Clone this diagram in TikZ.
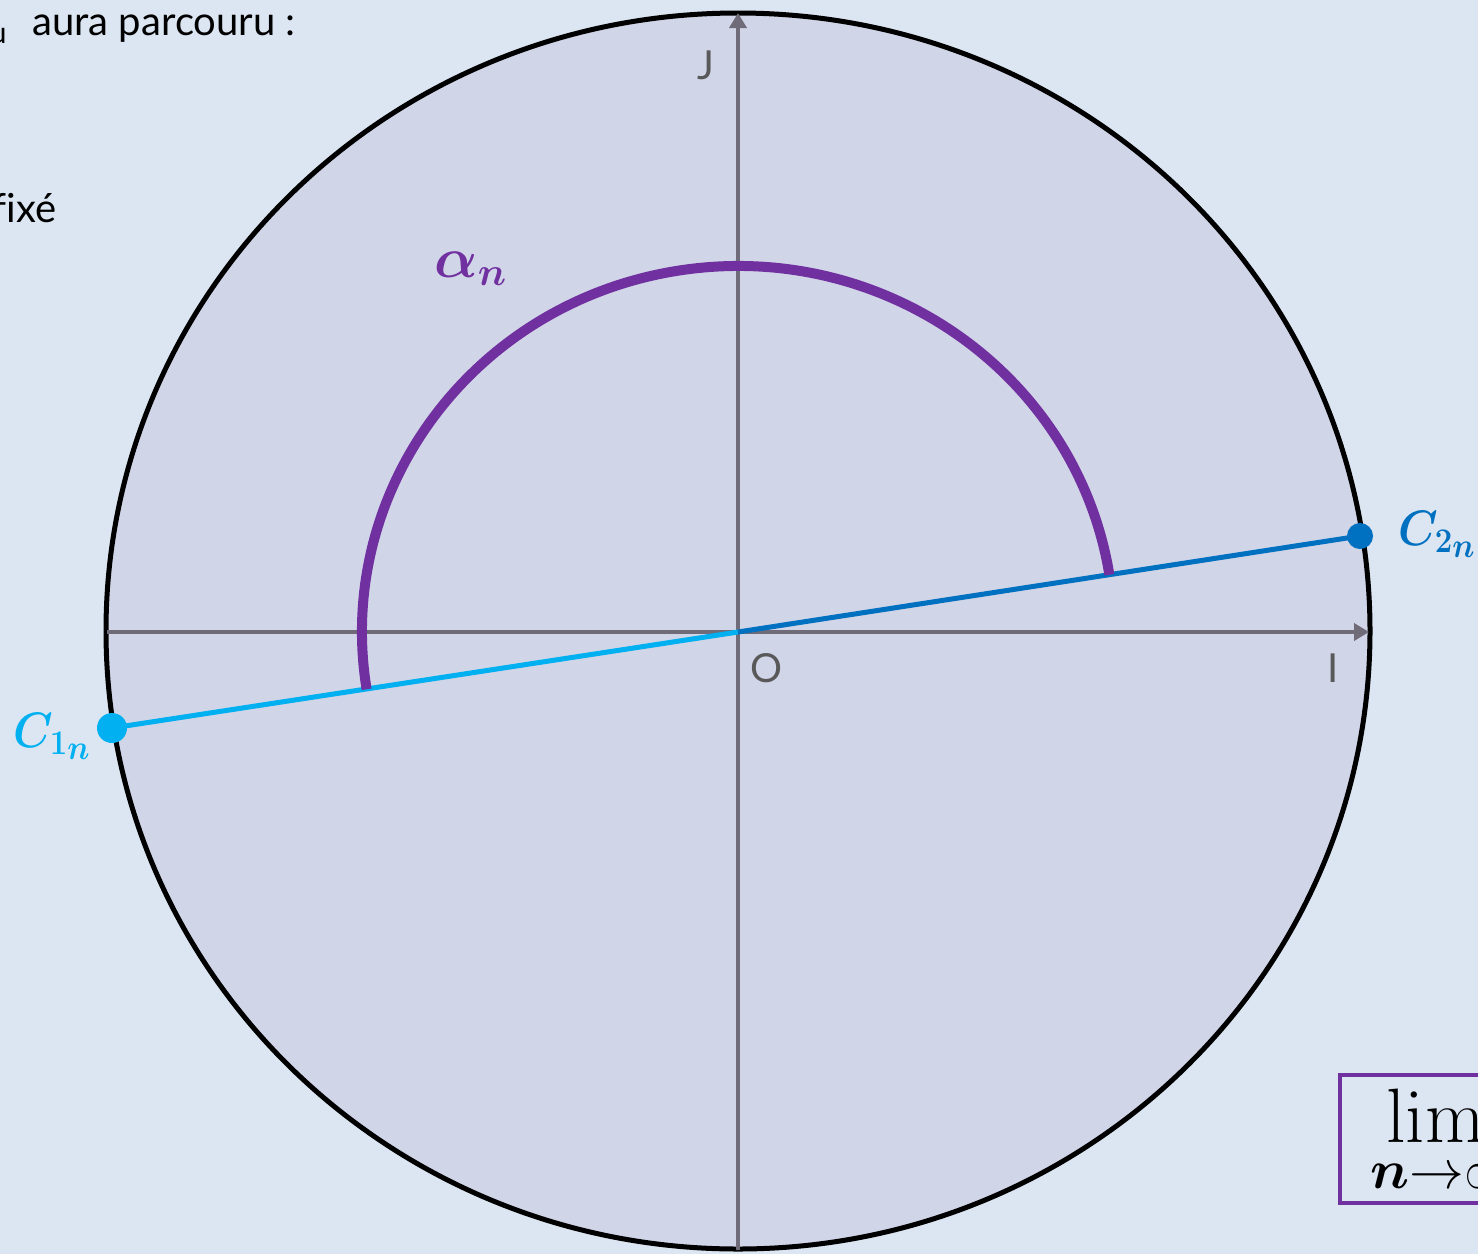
\documentclass[tikz,border=0pt]{standalone}
\usepackage[no-math]{fontspec}
\setmainfont{Lato}
\usepackage{bm}
\usetikzlibrary{arrows.meta}
\definecolor{bgc}{HTML}{DCE6F2}
\definecolor{circfill}{HTML}{D1D5E8}
\definecolor{axisgray}{HTML}{6F6B78}
\definecolor{labgray}{HTML}{595959}
\definecolor{purp}{HTML}{7030A0}
\definecolor{lightb}{HTML}{00B0F0}
\definecolor{darkb}{HTML}{0070C0}
\begin{document}
\begin{tikzpicture}[x=0.5pt,y=-0.5pt,
  axisline/.style={draw=axisgray, line width=2pt, -{Triangle[length=7.5pt,width=8.5pt]}},
  segline/.style={line width=2.5pt},
  arcline/.style={draw=purp, line width=5pt},
  dotnode/.style={circle, inner sep=0pt, minimum size=#1},
  axlabel/.style={text=labgray, font=\fontsize{20}{24}\selectfont, inner sep=0pt},
  mathlabel/.style={font=\fontsize{24}{28}\selectfont, inner sep=0pt, anchor=base west, xscale=0.9},
  bodytext/.style={font=\fontsize{20}{24}\selectfont, inner sep=0pt, anchor=base west},
  limbox/.style={draw=purp, line width=2pt}]
\useasboundingbox (0,0) rectangle (1478,1254);
\fill[bgc] (0,0) rectangle (1478,1254);

% top-left text (clipped by page edge)
\node[bodytext, anchor=base east, font=\fontsize{15}{17}\selectfont] (sub) at (7,43) {u};
\node[bodytext] (aura) at (32,35) {aura parcouru :};
\node[bodytext, anchor=base east] (fixe) at (57,222) {f\kern0pt ixé};

% circle
\coordinate (O) at (738,632);
\filldraw[fill=circfill, draw=black, line width=2.5pt] (738,631) ellipse [x radius=316pt, y radius=309pt];

% axes
\coordinate (xl) at (107,632);
\coordinate (xr) at (1369,632);
\coordinate (yb) at (738,1250);
\coordinate (yt) at (738,13);
\draw[axisline] (xl) -- (xr);
\draw[axisline] (yb) -- (yt);

% axis labels
\node[axlabel] (Olab) at (767,668) {O};
\node[axlabel] (Ilab) at (1333,668) {I};
\node[axlabel] (Jlab) at (706,65) {J};

% diameter
\coordinate (C1) at (112,728);
\coordinate (C2) at (1360,536);
\draw[segline, draw=lightb] (C1) -- (O);
\draw[segline, draw=darkb] (O) -- (C2);

% arc alpha_n
\draw[arcline] ([shift={(9:188pt and 183pt)}]O) arc[start angle=9, end angle=189, x radius=188pt, y radius=183pt];

% points
\node[dotnode=15pt, fill=lightb] (c1dot) at (C1) {};
\node[dotnode=13pt, fill=darkb] (c2dot) at (C2) {};

% math labels
\node[mathlabel, text=darkb] (c2lab) at (1398,545) {$\bm{C}_{\bm{2}_{\scriptstyle\bm{n}}}$};
\node[mathlabel, text=lightb] (c1lab) at (13,747) {$\bm{C}_{\bm{1}_{\scriptstyle\bm{n}}}$};
\node[inner sep=0pt, anchor=base west, text=purp, font=\fontsize{24}{28}\selectfont, scale=1.15] (alab) at (434,277) {$\bm{\alpha}_{\bm{n}}$};

% limit box
\draw[limbox] (1340,1075) rectangle (1500,1203);
\node[inner sep=0pt, anchor=base west, font=\fontsize{24}{28}\selectfont, scale=1.55] (lim) at (1386,1142) {$\mathrm{lim}$};
\node[inner sep=0pt, anchor=base west, font=\fontsize{24}{28}\selectfont, scale=1.1] (limsub) at (1370,1188) {$\bm{n}{\to}\infty$};
\end{tikzpicture}
\end{document}
